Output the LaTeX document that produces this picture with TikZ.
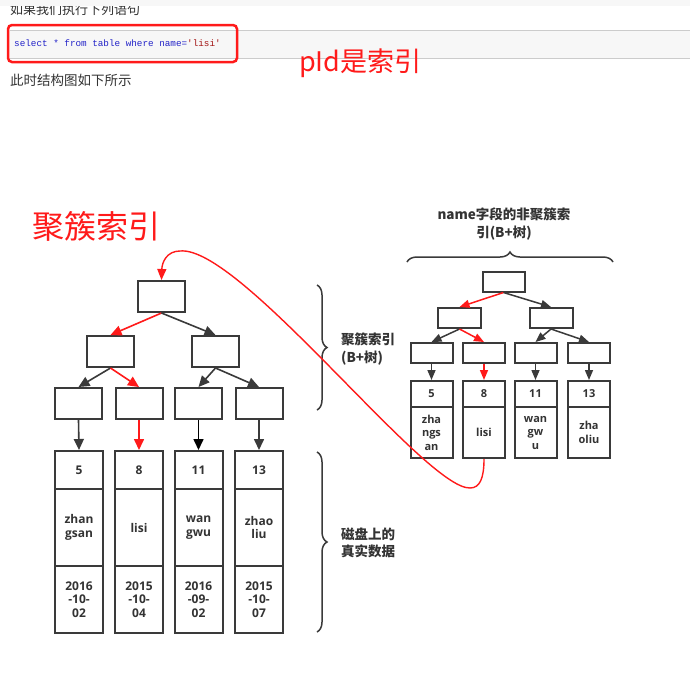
\documentclass[tikz,border=0pt]{standalone}
\usepackage{fontspec}
\setmainfont{Open Sans}
\newfontfamily\cjk{Noto Sans CJK SC}
\newfontfamily\codefont{Liberation Mono}
\usetikzlibrary{arrows.meta,decorations.pathreplacing}
\definecolor{ink}{HTML}{333333}
\definecolor{boxc}{HTML}{3A3A3A}
\definecolor{codeblue}{HTML}{2323C8}
\definecolor{codered}{HTML}{A31515}
\definecolor{bandgray}{HTML}{F7F7F7}
\definecolor{linegray}{HTML}{CCCCCC}
\definecolor{hred}{HTML}{FF1A1A}
\begin{document}
\begin{tikzpicture}[x=1pt,y=-1pt,
  bigbox/.style={draw=boxc, line width=2pt, fill=white, minimum width=47pt, minimum height=31pt, inner sep=0pt},
  smallbox/.style={draw=boxc, line width=2pt, fill=white, minimum width=42pt, minimum height=20pt, inner sep=0pt},
  cell/.style={draw=boxc, line width=2pt, fill=white, inner sep=0pt, align=center, text=ink, font=\bfseries\fontsize{12}{13.5}\selectfont},
  lkey/.style={cell, minimum width=48pt, minimum height=38pt},
  lname/.style={cell, minimum width=48pt, minimum height=77pt},
  ldate/.style={cell, minimum width=48pt, minimum height=67pt},
  rkey/.style={cell, minimum width=42pt, minimum height=26pt, font=\bfseries\fontsize{11}{13.5}\selectfont},
  rname/.style={cell, minimum width=42pt, minimum height=51pt, font=\bfseries\fontsize{11}{13.5}\selectfont},
  arr/.style={-{Triangle[length=11pt,width=10pt]}, line width=1.6pt, draw=boxc},
  sarr/.style={-{Triangle[length=10pt,width=8pt]}, line width=1.5pt, draw=boxc},
  rarr/.style={arr, draw=hred, -{Triangle[length=11pt,width=10pt,fill=hred]}},
  srarr/.style={sarr, draw=hred, -{Triangle[length=10pt,width=8pt,fill=hred]}},
  label/.style={text=ink, font=\cjk\bfseries\fontsize{13.5}{17.5}\selectfont, align=left, inner sep=0pt},
  brc/.style={decorate, decoration={brace, amplitude=10pt}, line width=1.5pt, draw=boxc}
]
\useasboundingbox (0,0) rectangle (690,675);
\fill[white] (0,0) rectangle (690,675);

% header texts
\node[anchor=west, inner sep=0pt, text=ink, font=\cjk\fontsize{13}{15}\selectfont] (t1) at (10,10) {如果我们执行下列语句};
\fill[bandgray] (0,0) rectangle (690,5.5);
\fill[bandgray] (10,30) rectangle (690,58);
\draw[linegray, line width=1pt] (10,30) -- (690,30);
\draw[linegray, line width=1pt] (10,58) -- (690,58);
\node[anchor=west, inner sep=0pt, font=\codefont\fontsize{9.3}{11}\selectfont] (code) at (14,43.5) {\textcolor{codeblue}{select * from table where name=}\textcolor{codered}{'lisi'}};
\draw[hred, line width=2.5pt, rounded corners=4pt] (8,25) rectangle (237,62);
\node[anchor=west, inner sep=0pt, text=hred, font=\cjk\fontsize{27}{30}\selectfont] (pid) at (299,63) {pId是索引};
\node[anchor=west, inner sep=0pt, text=ink, font=\cjk\fontsize{13.5}{15}\selectfont] (t2) at (10,80) {此时结构图如下所示};
\node[anchor=west, inner sep=0pt, text=hred, font=\cjk\fontsize{32}{35}\selectfont] (jc) at (32,226) {聚簇索引};

% left tree (clustered index)
\node[bigbox] (r) at (161.5,296.5) {};
\node[bigbox] (a) at (110.5,351.5) {};
\node[bigbox] (b) at (215.5,351.5) {};
\node[bigbox] (a1) at (78.5,403.5) {};
\node[bigbox] (a2) at (139,403.5) {};
\node[bigbox] (b1) at (198.5,403.5) {};
\node[bigbox] (b2) at (259,403.5) {};

\node[lkey] (k1) at (79,470) {5};
\node[lname] (n1) at (79,527.5) {zhan\\gsan};
\node[ldate] (d1) at (79,599.5) {2016\\-10-\\02};
\node[lkey] (k2) at (139,470) {8};
\node[lname] (n2) at (139,527.5) {lisi};
\node[ldate] (d2) at (139,599.5) {2015\\-10-\\04};
\node[lkey] (k3) at (198.5,470) {11};
\node[lname] (n3) at (198.5,527.5) {wan\\gwu};
\node[ldate] (d3) at (198.5,599.5) {2016\\-09-\\02};
\node[lkey] (k4) at (259,470) {13};
\node[lname] (n4) at (259,527.5) {zhao\\liu};
\node[ldate] (d4) at (259,599.5) {2015\\-10-\\07};

\draw[rarr] (r.south) -- (a.north);
\draw[arr] (r.south) -- (b.north);
\draw[arr] (a.south) -- (a1.north);
\draw[rarr] (a.south) -- (a2.north);
\draw[arr] (b.south) -- (b1.north);
\draw[arr] (b.south) -- (b2.north);
\draw[arr] (a1.south) -- (k1.north);
\draw[rarr] (a2.south) -- (k2.north);
\draw[arr, draw=black] (b1.south) -- (k3.north);
\draw[arr] (b2.south) -- (k4.north);

% braces and labels for left tree
\coordinate (bt1) at (317,285);
\coordinate (bb1) at (317,410);
\draw[brc] (bt1) -- (bb1);
\node[label, anchor=west] (l1) at (341,349) {聚簇索引\\(B+树)};
\coordinate (bt2) at (317,452);
\coordinate (bb2) at (317,632);
\draw[brc] (bt2) -- (bb2);
\node[label, anchor=west] (l2) at (341,543) {磁盘上的\\真实数据};

% right tree (secondary index)
\coordinate (bl3) at (407,262);
\coordinate (br3) at (613,262);
\draw[brc] (bl3) -- (br3);
\node[label, align=center] (l3) at (504,224) {name字段的非聚簇索\\引(B+树)};

\node[smallbox] (sr) at (503.5,281.5) {};
\node[smallbox, minimum width=43pt] (sa) at (459.5,318) {};
\node[smallbox, minimum width=43pt] (sb) at (551,318) {};
\node[smallbox] (sa1) at (431.5,353) {};
\node[smallbox] (sa2) at (484,353) {};
\node[smallbox] (sb1) at (535.5,353) {};
\node[smallbox] (sb2) at (589,353) {};

\node[rkey] (sk1) at (431.5,394) {5};
\node[rname] (sn1) at (431.5,432.5) {zha\\ngs\\an};
\node[rkey] (sk2) at (484,394) {8};
\node[rname] (sn2) at (484,432.5) {lisi};
\node[rkey] (sk3) at (535.5,394) {11};
\node[rname] (sn3) at (535.5,432.5) {wan\\gw\\u};
\node[rkey] (sk4) at (589,394) {13};
\node[rname] (sn4) at (589,432.5) {zha\\oliu};

\draw[srarr] (sr.south) -- (sa.north);
\draw[sarr] (sr.south) -- (sb.north);
\draw[sarr] (sa.south) -- (sa1.north);
\draw[srarr] (sa.south) -- (sa2.north);
\draw[sarr] (sb.south) -- (sb1.north);
\draw[sarr] (sb.south) -- (sb2.north);
\draw[sarr] (sa1.south) -- (sk1.north);
\draw[srarr] (sa2.south) -- (sk2.north);
\draw[sarr] (sb1.south) -- (sk3.north);
\draw[sarr] (sb2.south) -- (sk4.north);

% red curve from secondary leaf back to clustered root
\coordinate (cbot) at (470,488);
\coordinate (ctop) at (180,251);
\draw[hred, line width=1.4pt, -{Triangle[length=11pt,width=9pt,fill=hred]}]
  (sn2.south) .. controls (484,478) and (480,488) .. (cbot)
  .. controls (425,489) and (240,245) .. (ctop)
  .. controls (167,251) and (162,262) .. (r.north);
\end{tikzpicture}
\end{document}
